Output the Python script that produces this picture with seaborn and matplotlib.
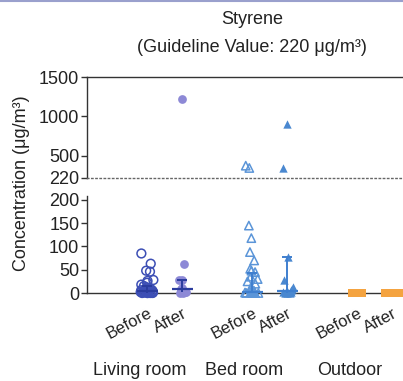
import numpy as np
import pandas as pd
import matplotlib
matplotlib.use("Agg")
import matplotlib.pyplot as plt
import seaborn as sns
from matplotlib.lines import Line2D

sns.set_theme(style="ticks")
plt.rcParams['font.family'] = ['Liberation Sans', 'DejaVu Sans']

# ---------------- data ----------------
groups = ["Living room", "Bed room", "Outdoor"]
phases = ["Before", "After"]
positions = [0, 1, 3, 4, 6, 7]

living_before = [85, 63, 48, 46, 28, 26, 22, 18, 15, 12, 10, 8, 7, 6, 5, 5,
                 4, 3, 3, 2, 2, 1, 1, 0, 0, 0, 0, 0]
living_after = [1220, 62, 28, 27, 10, 8, 7, 5, 3, 2, 1, 0]
bed_before = [376, 347, 145, 118, 88, 70, 52, 48, 45, 35, 30, 25, 20, 12, 8,
              5, 3, 2, 1, 0, 0, 0, 0, 0, 0]
bed_after = [904, 350, 78, 28, 12, 8, 6, 5, 3, 2, 1, 0, 0]
outdoor_before = [0, 0, 0, 0, 0, 0, 0, 0, 0, 0]
outdoor_after = [0, 0, 0, 0, 0, 0, 0, 0, 0, 0]

medians = [4, 8, 2, 5, 0, 0]
err_low = [0, 2, 0, 0, 0, 0]
err_high = [14, 28, 42, 78, 0, 0]

upper_ticks = [220, 500, 1000, 1500]
lower_ticks = [0, 50, 100, 150, 200]

# ---------------- styles ----------------
series = [living_before, living_after, bed_before, bed_after, outdoor_before, outdoor_after]
markers = ['o', 'o', '^', '^', 's', 's']
colors = ['#3d4fb5', '#8d89d6', '#5b95d8', '#4a88d0', '#f4a340', '#f4a340']
line_colors = ['#2b3c9e', '#2b3c9e', '#3f7fcf', '#3f7fcf', '#f4a340', '#f4a340']
filled = [False, True, False, True, True, True]
sizes = [6.3, 6.3, 6.0, 6.0, 5.6, 5.6]
jitters = [0.19, 0.15, 0.2, 0.17, 0.23, 0.23]
text_color = '#222222'

np.random.seed(7)

fig = plt.figure(figsize=(4.03, 3.81), dpi=100)
W, H = 403, 381
x_left_px, x0_px, unit_px = 87, 147, 35.0
xlim = ((x_left_px - x0_px) / unit_px, (W - x0_px) / unit_px)

ax_top = fig.add_axes([x_left_px / W, 1 - 178 / H, 1 - x_left_px / W, 101 / H])
ax_bot = fig.add_axes([x_left_px / W, 1 - 293 / H, 1 - x_left_px / W, 97 / H])

for i, vals in enumerate(series):
    df = pd.DataFrame({"x": float(positions[i]), "y": np.asarray(vals, dtype=float)})
    for ax, sub in ((ax_bot, df[df.y <= 210]), (ax_top, df[df.y >= 220])):
        if len(sub) == 0:
            continue
        sns.stripplot(data=sub, x="x", y="y", ax=ax, native_scale=True,
                      jitter=jitters[i], marker=markers[i], size=sizes[i],
                      color=colors[i], clip_on=False, zorder=3)
        coll = ax.collections[-1]
        if not filled[i]:
            coll.set_facecolor('none')
            coll.set_edgecolor(colors[i])
            coll.set_linewidth(1.1)
        else:
            coll.set_linewidth(0)

# median and error bars
for i, pos in enumerate(positions):
    if err_high[i] <= 0:
        continue
    c = line_colors[i]
    ax_bot.hlines(medians[i], pos - 0.3, pos + 0.3, color=c, lw=1.6, zorder=5, clip_on=False)
    ax_bot.vlines(pos, err_low[i], err_high[i], color=c, lw=1.4, zorder=5, clip_on=False)
    ax_bot.hlines(err_high[i], pos - 0.14, pos + 0.14, color=c, lw=1.4, zorder=5, clip_on=False)

# ---------------- axes styling ----------------
for ax in (ax_top, ax_bot):
    ax.set_xlim(*xlim)
    ax.set_xlabel("")
    ax.set_ylabel("")
    ax.set_facecolor('none')
    ax.spines['right'].set_visible(False)
    ax.spines['left'].set_color('#333333')
    ax.spines['left'].set_linewidth(1.0)
    ax.tick_params(axis='y', direction='out', length=4.5, width=1.0,
                   color='#333333', labelsize=13, labelcolor=text_color, pad=1)

ax_top.set_ylim(220, 1500)
ax_top.set_yticks(upper_ticks)
ax_top.set_xticks([])
ax_top.spines['top'].set_color('#333333')
ax_top.spines['top'].set_linewidth(1.0)
ax_top.spines['bottom'].set_color('#666666')
ax_top.spines['bottom'].set_linewidth(1.0)
ax_top.spines['bottom'].set_linestyle((0, (1, 2)))

ax_bot.set_ylim(0, 208.6)
ax_bot.set_yticks(lower_ticks)
ax_bot.spines['top'].set_visible(False)
ax_bot.spines['bottom'].set_color('#333333')
ax_bot.spines['bottom'].set_linewidth(1.0)
ax_bot.set_xticks(positions)
ax_bot.set_xticklabels(phases * 3, rotation=28, ha='right', rotation_mode='anchor',
                       fontsize=12, color=text_color)
ax_bot.tick_params(axis='x', length=0, pad=9)

for gi, g in enumerate(groups):
    ax_bot.text(positions[2 * gi] - 0.22, -0.8, g, transform=ax_bot.get_xaxis_transform(),
                ha='center', va='center', fontsize=13, color=text_color)

fig.text(252 / W, 1 - 20 / H, "Styrene", ha='center', va='center', fontsize=13, color=text_color)
fig.text(252 / W, 1 - 48 / H, "(Guideline Value: 220 \u03bcg/m\u00b3)", ha='center',
         va='center', fontsize=13, color=text_color)
fig.text(22 / W, 1 - 183 / H, "Concentration (\u03bcg/m\u00b3)", rotation=90,
         ha='center', va='center', fontsize=13, color=text_color)

fig.add_artist(Line2D([0, 1], [0.997, 0.997], transform=fig.transFigure,
                      color='#6f78b8', lw=1.5, alpha=0.7))

fig.savefig("out.png", dpi=100)
